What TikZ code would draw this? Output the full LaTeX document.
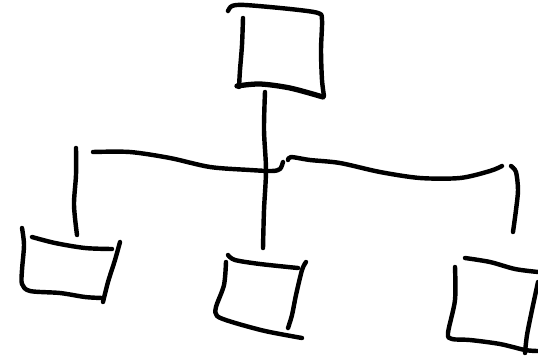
\documentclass[tikz,border=0pt]{standalone}
\usepackage{tikz}

\tikzset{pen/.style={line width=6.3pt,line cap=round,line join=round}}

\begin{document}
\begin{tikzpicture}[x=0.05cm,y=-0.05cm]
\useasboundingbox (0,0) rectangle (538,358);
% top box
\draw[pen] plot[smooth] coordinates {(228,11) (232,6) (245,5) (290,9) (318,13) (322,20) (321,50) (322,80) (324,96)};
\draw[pen] plot[smooth] coordinates {(243,18) (242,45) (240,70) (239,87)};
\draw[pen,line width=7.5pt] plot[smooth] coordinates {(237,86) (260,84) (290,88) (323,97)};
\draw[pen] plot[smooth] coordinates {(265,92) (264,130) (266,170) (264,210) (263,248)};
% branches
\draw[pen] plot[smooth] coordinates {(93,152) (130,152) (170,158) (210,167) (250,170) (272,171) (280,169) (283,162)};
\draw[pen] plot[smooth] coordinates {(288,160) (291,157) (310,160) (340,163) (380,172) (420,178) (460,178) (490,171) (502,166)};
\draw[pen] plot[smooth] coordinates {(511,166) (516,172) (518,190) (516,210) (513,232)};
\draw[pen] plot[smooth] coordinates {(76,148) (76,175) (74,205) (77,235)};
% left box
\draw[pen] plot[smooth] coordinates {(22,228) (24,245) (22,270) (22,284) (30,291) (60,293) (85,297) (102,298)};
\draw[pen] plot[smooth] coordinates {(32,237) (55,243) (85,248) (112,249)};
\draw[pen] plot[smooth] coordinates {(120,242) (115,260) (108,282) (103,302)};
% middle box
\draw[pen] plot[smooth] coordinates {(228,255) (235,260) (260,264) (298,268)};
\draw[pen] plot[smooth] coordinates {(306,262) (302,270) (296,295) (292,315) (288,328)};
\draw[pen] plot[smooth] coordinates {(226,262) (224,285) (216,307) (217,316) (232,322) (265,331) (302,338)};
% right box
\draw[pen] plot[smooth] coordinates {(465,258) (490,262) (515,269) (538,272)};
\draw[pen] plot[smooth] coordinates {(455,267) (455,300) (448,333) (452,339) (470,340) (500,344) (525,350) (538,351)};
\draw[pen] plot[smooth] coordinates {(538,282) (532,310) (527,335) (525,353)};
\end{tikzpicture}
\end{document}
